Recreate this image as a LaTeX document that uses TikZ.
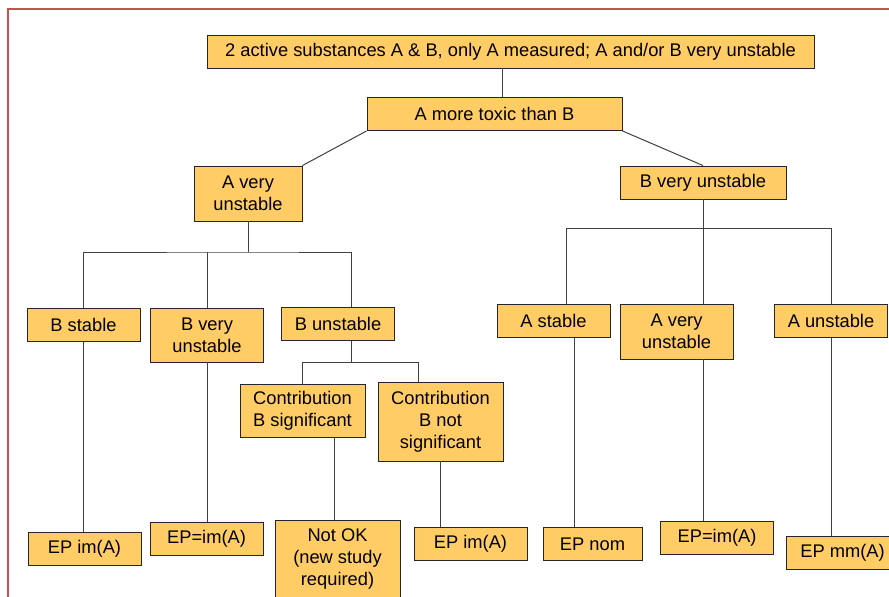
\documentclass[tikz,border=0pt]{standalone}
\usepackage{fontspec}
\setmainfont{Liberation Sans}
\usepackage{tikz}
\usetikzlibrary{positioning}
\definecolor{boxfill}{RGB}{255,204,102}
\definecolor{framered}{RGB}{196,82,80}

\begin{document}
\begin{tikzpicture}[x=1pt, y=-1pt, box/.style={rectangle, draw=black!85, fill=boxfill, line width=0.9pt, inner sep=0pt, align=center, minimum height=33pt, font=\fontsize{18.3}{22}\selectfont}, leaf/.style={box, minimum width=113pt}, link/.style={draw=black!75, line width=1pt}]

    \clip (0,0) rectangle (889,597);
    \draw[framered, line width=2.6pt] (8,9) rectangle (905,615);

    % Nodes
    \node[box, minimum width=607pt] (top)   at (510.5,51.5) {2 active substances A \& B, only A measured; A and/or B very unstable};
    \node[box, minimum width=255pt] (toxic) at (494.5,114)  {A more toxic than B};
    \node[box, minimum width=108pt, minimum height=55pt] (averyL) at (248,193.5) {A very\\unstable};
    \node[box, minimum width=166pt] (bveryR) at (703,182.5) {B very unstable};

    % A very unstable branch
    \node[leaf] (bstable)   at (83.5,325)  {B stable};
    \node[leaf, minimum height=54pt] (bvery) at (207,335) {B very\\unstable};
    \node[leaf] (bunstable) at (338,324)   {B unstable};
    \node[box, minimum width=125pt, minimum height=53pt] (contrib)    at (302.5,410.5) {Contribution\\B significant};
    \node[box, minimum width=125pt, minimum height=79pt] (contribnot) at (440.5,421.5) {Contribution\\B not\\significant};

    % B very unstable branch
    \node[leaf] (astable)   at (553.5,321) {A stable};
    \node[leaf, minimum height=55pt] (averyR) at (676.5,331.5) {A very\\unstable};
    \node[leaf] (aunstable) at (831,321)   {A unstable};

    % Results
    \node[leaf] (epimL)  at (84.5,548.5) {EP im(A)};
    \node[leaf] (epeqL)  at (206.5,538.5) {EP=im(A)};
    \node[box, minimum width=125pt, minimum height=79pt] (notok) at (337.5,559.5) {Not OK\\(new study\\required)};
    \node[leaf] (epimM)  at (470.5,543.5) {EP im(A)};
    \node[box, minimum width=99pt] (epnom) at (592.5,544) {EP nom};
    \node[leaf] (epeqR)  at (717,537.5)  {EP=im(A)};
    \node[leaf] (epmm)   at (842.5,553)  {EP mm(A)};

    % Junctions
    \coordinate (jA)  at (248,252);
    \coordinate (jAr) at (351,252);
    \coordinate (jB)  at (351,362);
    \coordinate (jBr) at (418,362);
    \coordinate (jCl) at (566,228);
    \coordinate (jCr) at (831,228);
    \coordinate (jD)  at (574,0);

    % Lines ---------------
    \draw[link] (top.south -| 502,0) -- (toxic.north -| 502,0);
    \draw[link] (toxic.south west) -- (averyL.north east);
    \draw[link] (toxic.south east) -- (bveryR.north);

    % A very unstable
    \draw[link] (averyL.south) -- (jA);
    \draw[link] (bstable.north) |- (jA) -- (jAr) -- (jAr |- bunstable.north);
    \draw[link] (bvery.north) -- (bvery.north |- jA);
    \draw[link] (jB |- bunstable.south) -- (jB);
    \draw[link] (contrib.north) |- (jBr) -- (jBr |- contribnot.north);

    % B very unstable
    \draw[link] (bveryR.south) -- (bveryR.south |- averyR.north);
    \draw[link] (jCl |- astable.north) -- (jCl) -- (jCr) -- (aunstable.north);

    % Results
    \draw[link] (bstable.south) -- (bstable.south |- epimL.north);
    \draw[link] (bvery.south) -- (bvery.south |- epeqL.north);
    \draw[link] (notok.north -| 334,0) -- (contrib.south -| 334,0);
    \draw[link] (contribnot.south) -- (contribnot.south |- epimM.north);
    \draw[link] (astable.south -| jD) -- (epnom.north -| jD);
    \draw[link] (averyR.south -| bveryR) -- (epeqR.north -| bveryR);
    \draw[link] (aunstable.south) -- (aunstable.south |- epmm.north);

\end{tikzpicture}
\end{document}
